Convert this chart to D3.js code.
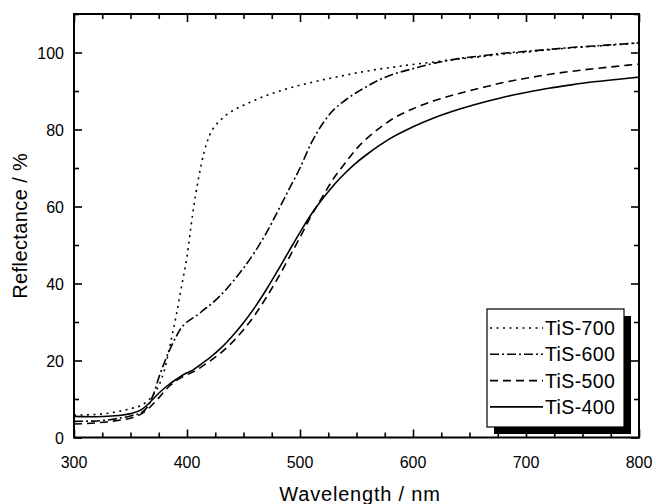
<!DOCTYPE html>
<html>
<head>
<meta charset="utf-8">
<script src="https://cdn.jsdelivr.net/npm/d3@7"></script>
<style>
  body { margin: 0; background: #fff; }
  text { font-family: "Liberation Sans", Arial, sans-serif; fill: #000; }
</style>
</head>
<body>
<svg width="656" height="504"></svg>
<script>
// wavelengths (nm) shared by all series
var wavelength = [300,320,340,350,360,365,370,375,380,385,390,395,400,405,410,415,420,430,440,450,
    460,470,480,490,500,510,520,530,540,550,560,570,580,600,620,640,660,680,700,720,740,760,780,800];

var tis700 = [5.8,6.0,6.8,7.5,8.4,9.5,11,13.5,17.5,24,31,39,47,58,67,74,78.5,82.5,84.8,86.3,
    87.6,88.8,89.8,90.7,91.5,92.2,92.9,93.5,94.1,94.7,95.2,95.7,96.1,96.9,97.6,98.3,98.9,99.6,100.1,100.7,101.2,101.6,102.0,102.5];
var tis600 = [4.2,4.3,5.0,5.6,6.5,8,11,15.5,19.5,23,26,28.5,30,31,32,33.2,34.3,37,40.3,44,
    48.2,53,58.6,64.3,70,76.5,81.5,85.2,87.6,89.6,91.3,92.9,94.1,95.8,97.3,98.4,99.1,99.8,100.3,100.8,101.3,101.7,102.1,102.5];
var tis500 = [3.5,3.8,4.5,5.0,6.2,7.3,8.7,10.3,12,13.5,14.7,15.6,16.3,17,17.8,18.8,19.8,22,24.7,28,
    31.8,36.3,41.2,46.5,52,57.6,62.6,67.4,71.3,75,77.9,80.3,82.4,85.4,87.6,89.3,90.8,92.2,93.3,94.3,95.1,95.8,96.4,97.0];
var tis400 = [5.5,5.4,5.7,6.2,7.3,8.5,10,11.5,12.8,14,15,16,16.8,17.5,18.5,19.6,20.7,23.2,26.3,29.8,
    33.8,38.3,43.2,48.3,53.3,58,62,65.6,68.7,71.4,73.7,75.8,77.7,80.7,83.2,85.2,86.9,88.4,89.6,90.7,91.6,92.4,93.0,93.6];

var seriesNames = ["TiS-700", "TiS-600", "TiS-500", "TiS-400"];
var seriesValues = [tis700, tis600, tis500, tis400];
var dashes = ["2,4.5", "9,3,2,3", "8,5", null];

var xTicks = [300, 400, 500, 600, 700, 800];
var yTicks = [0, 20, 40, 60, 80, 100];

var svg = d3.select("svg");

var pLeft = 74, pRight = 639, pTop = 14, pBottom = 437.5;

var x = d3.scaleLinear().domain([300, 800]).range([pLeft, pRight]);
var y = d3.scaleLinear().domain([0, 110]).range([pBottom, pTop]);

svg.append("clipPath").attr("id", "clip")
    .append("rect")
    .attr("x", pLeft).attr("y", pTop)
    .attr("width", pRight - pLeft).attr("height", pBottom - pTop);

// inward ticks on all four sides
function ticks(g, axis, scale, values, len) {
    g.call(axis(scale).tickValues(values).tickSize(len).tickFormat(""));
    g.select(".domain").remove();
    g.selectAll("line").attr("stroke", "#000").attr("stroke-width", 1.6);
}
var xMinor = d3.range(300, 801, 25).filter(function (d) { return d % 100 != 0; });
var yMinor = d3.range(10, 111, 20);

svg.append("g").attr("transform", "translate(0," + pBottom + ")").call(ticks, d3.axisTop, x, xTicks, 8);
svg.append("g").attr("transform", "translate(0," + pBottom + ")").call(ticks, d3.axisTop, x, xMinor, 5);
svg.append("g").attr("transform", "translate(0," + pTop + ")").call(ticks, d3.axisBottom, x, xTicks, 8);
svg.append("g").attr("transform", "translate(0," + pTop + ")").call(ticks, d3.axisBottom, x, xMinor, 5);
svg.append("g").attr("transform", "translate(" + pLeft + ",0)").call(ticks, d3.axisRight, y, yTicks, 8);
svg.append("g").attr("transform", "translate(" + pLeft + ",0)").call(ticks, d3.axisRight, y, yMinor, 5);
svg.append("g").attr("transform", "translate(" + pRight + ",0)").call(ticks, d3.axisLeft, y, yTicks, 8);
svg.append("g").attr("transform", "translate(" + pRight + ",0)").call(ticks, d3.axisLeft, y, yMinor, 5);

// tick labels
svg.append("g").selectAll("text")
    .data(xTicks)
    .enter().append("text")
    .attr("x", function (d) { return x(d); })
    .attr("y", pBottom + 30.5)
    .attr("text-anchor", "middle")
    .attr("font-size", 16)
    .text(function (d) { return d; });

svg.append("g").selectAll("text")
    .data(yTicks)
    .enter().append("text")
    .attr("x", pLeft - 10)
    .attr("y", function (d) { return y(d) + 6; })
    .attr("text-anchor", "end")
    .attr("font-size", 16)
    .text(function (d) { return d; });

// frame
svg.append("rect")
    .attr("x", pLeft).attr("y", pTop)
    .attr("width", pRight - pLeft).attr("height", pBottom - pTop)
    .attr("fill", "none").attr("stroke", "#000").attr("stroke-width", 2);

// curves
var line = d3.line()
    .x(function (d) { return x(d[0]); })
    .y(function (d) { return y(d[1]); })
    .curve(d3.curveMonotoneX);

seriesValues.forEach(function (vals, i) {
    svg.append("path")
        .datum(wavelength.map(function (w, j) { return [w, vals[j]]; }))
        .attr("clip-path", "url(#clip)")
        .attr("fill", "none")
        .attr("stroke", "#000")
        .attr("stroke-width", 1.6)
        .attr("stroke-dasharray", dashes[i])
        .attr("d", line);
});

// axis titles
svg.append("text")
    .attr("x", 360)
    .attr("y", 501)
    .attr("text-anchor", "middle")
    .attr("font-size", 20)
    .attr("letter-spacing", 0.8)
    .text("Wavelength / nm");

svg.append("text")
    .attr("transform", "translate(27," + ((pTop + pBottom) / 2) + ") rotate(-90)")
    .attr("text-anchor", "middle")
    .attr("font-size", 20)
    .attr("letter-spacing", 0.4)
    .text("Reflectance / %");

// legend with drop shadow
var lg = svg.append("g");
lg.append("rect")
    .attr("x", 494).attr("y", 316).attr("width", 137).attr("height", 118)
    .attr("fill", "#000");
lg.append("rect")
    .attr("x", 487).attr("y", 309).attr("width", 137).attr("height", 118)
    .attr("fill", "#fff").attr("stroke", "#000").attr("stroke-width", 1.2);

seriesNames.forEach(function (name, i) {
    var cy = 328 + i * 26.3;
    lg.append("line")
        .attr("x1", 490).attr("x2", 543)
        .attr("y1", cy).attr("y2", cy)
        .attr("stroke", "#000").attr("stroke-width", 1.6)
        .attr("stroke-dasharray", dashes[i]);
    lg.append("text")
        .attr("x", 545)
        .attr("y", cy + 7)
        .attr("font-size", 19.5)
        .attr("letter-spacing", 0.4)
        .text(name);
});
</script>
</body>
</html>
